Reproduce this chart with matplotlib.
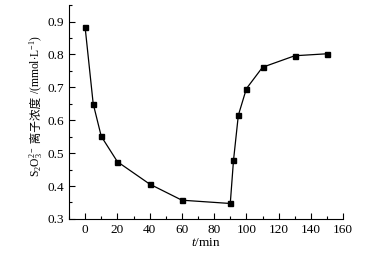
import matplotlib
matplotlib.use('Agg')
import matplotlib.pyplot as plt
from matplotlib.ticker import MultipleLocator, FormatStrFormatter

# time (min) and thiosulfate concentration (mmol/L)
t = [0, 5, 10, 20, 40, 60, 90, 92, 95, 100, 110, 130, 150]
conc = [0.882, 0.650, 0.551, 0.474, 0.406, 0.357, 0.347, 0.478, 0.615, 0.696, 0.761, 0.796, 0.802]

plt.rcParams['font.family'] = ['Liberation Serif', 'Noto Sans CJK SC']
plt.rcParams['mathtext.fontset'] = 'custom'
plt.rcParams['mathtext.rm'] = 'Liberation Serif'
plt.rcParams['mathtext.it'] = 'Liberation Serif:italic'

fig = plt.figure(figsize=(3.73, 2.54), dpi=100)
ax = fig.add_axes([0.185, 0.138, 0.735, 0.842])

ax.plot(t, conc, color='black', lw=0.9, marker='s', markersize=3.6)

ax.set_xlim(-10, 160)
ax.set_ylim(0.3, 0.95)
ax.xaxis.set_major_locator(MultipleLocator(20))
ax.xaxis.set_minor_locator(MultipleLocator(10))
ax.yaxis.set_major_locator(MultipleLocator(0.1))
ax.yaxis.set_minor_locator(MultipleLocator(0.05))
ax.yaxis.set_major_formatter(FormatStrFormatter('%.1f'))
ax.tick_params(which='both', direction='in', labelsize=9.5, width=0.8)
ax.tick_params(which='major', length=4)
ax.tick_params(which='minor', length=2.5)
for side in ['top', 'right']:
    ax.spines[side].set_visible(False)
for side in ['left', 'bottom']:
    ax.spines[side].set_linewidth(0.8)

ax.set_xlabel(r'$t$/min', fontsize=9.5, labelpad=1)

# y label in three pieces so the Chinese part can use a CJK font
pieces = [r'S$_2$O$_3^{2-}$', ' 离子浓度 ', r'/(mmol$\cdot$L$^{-1}$)']
fams = [['Liberation Serif'], ['Noto Sans CJK SC'], ['Liberation Serif']]
x_base = 40 / 373
y_pos = (254 - 177) / 254
fig.canvas.draw()
renderer = fig.canvas.get_renderer()
for txt, fam in zip(pieces, fams):
    tt = fig.text(x_base, y_pos, txt, rotation=90, rotation_mode='anchor',
                  ha='left', va='baseline', fontsize=8.4, family=fam)
    ext = tt.get_window_extent(renderer)
    y_pos += ext.height / fig.bbox.height

fig.savefig('out.png', dpi=100)
